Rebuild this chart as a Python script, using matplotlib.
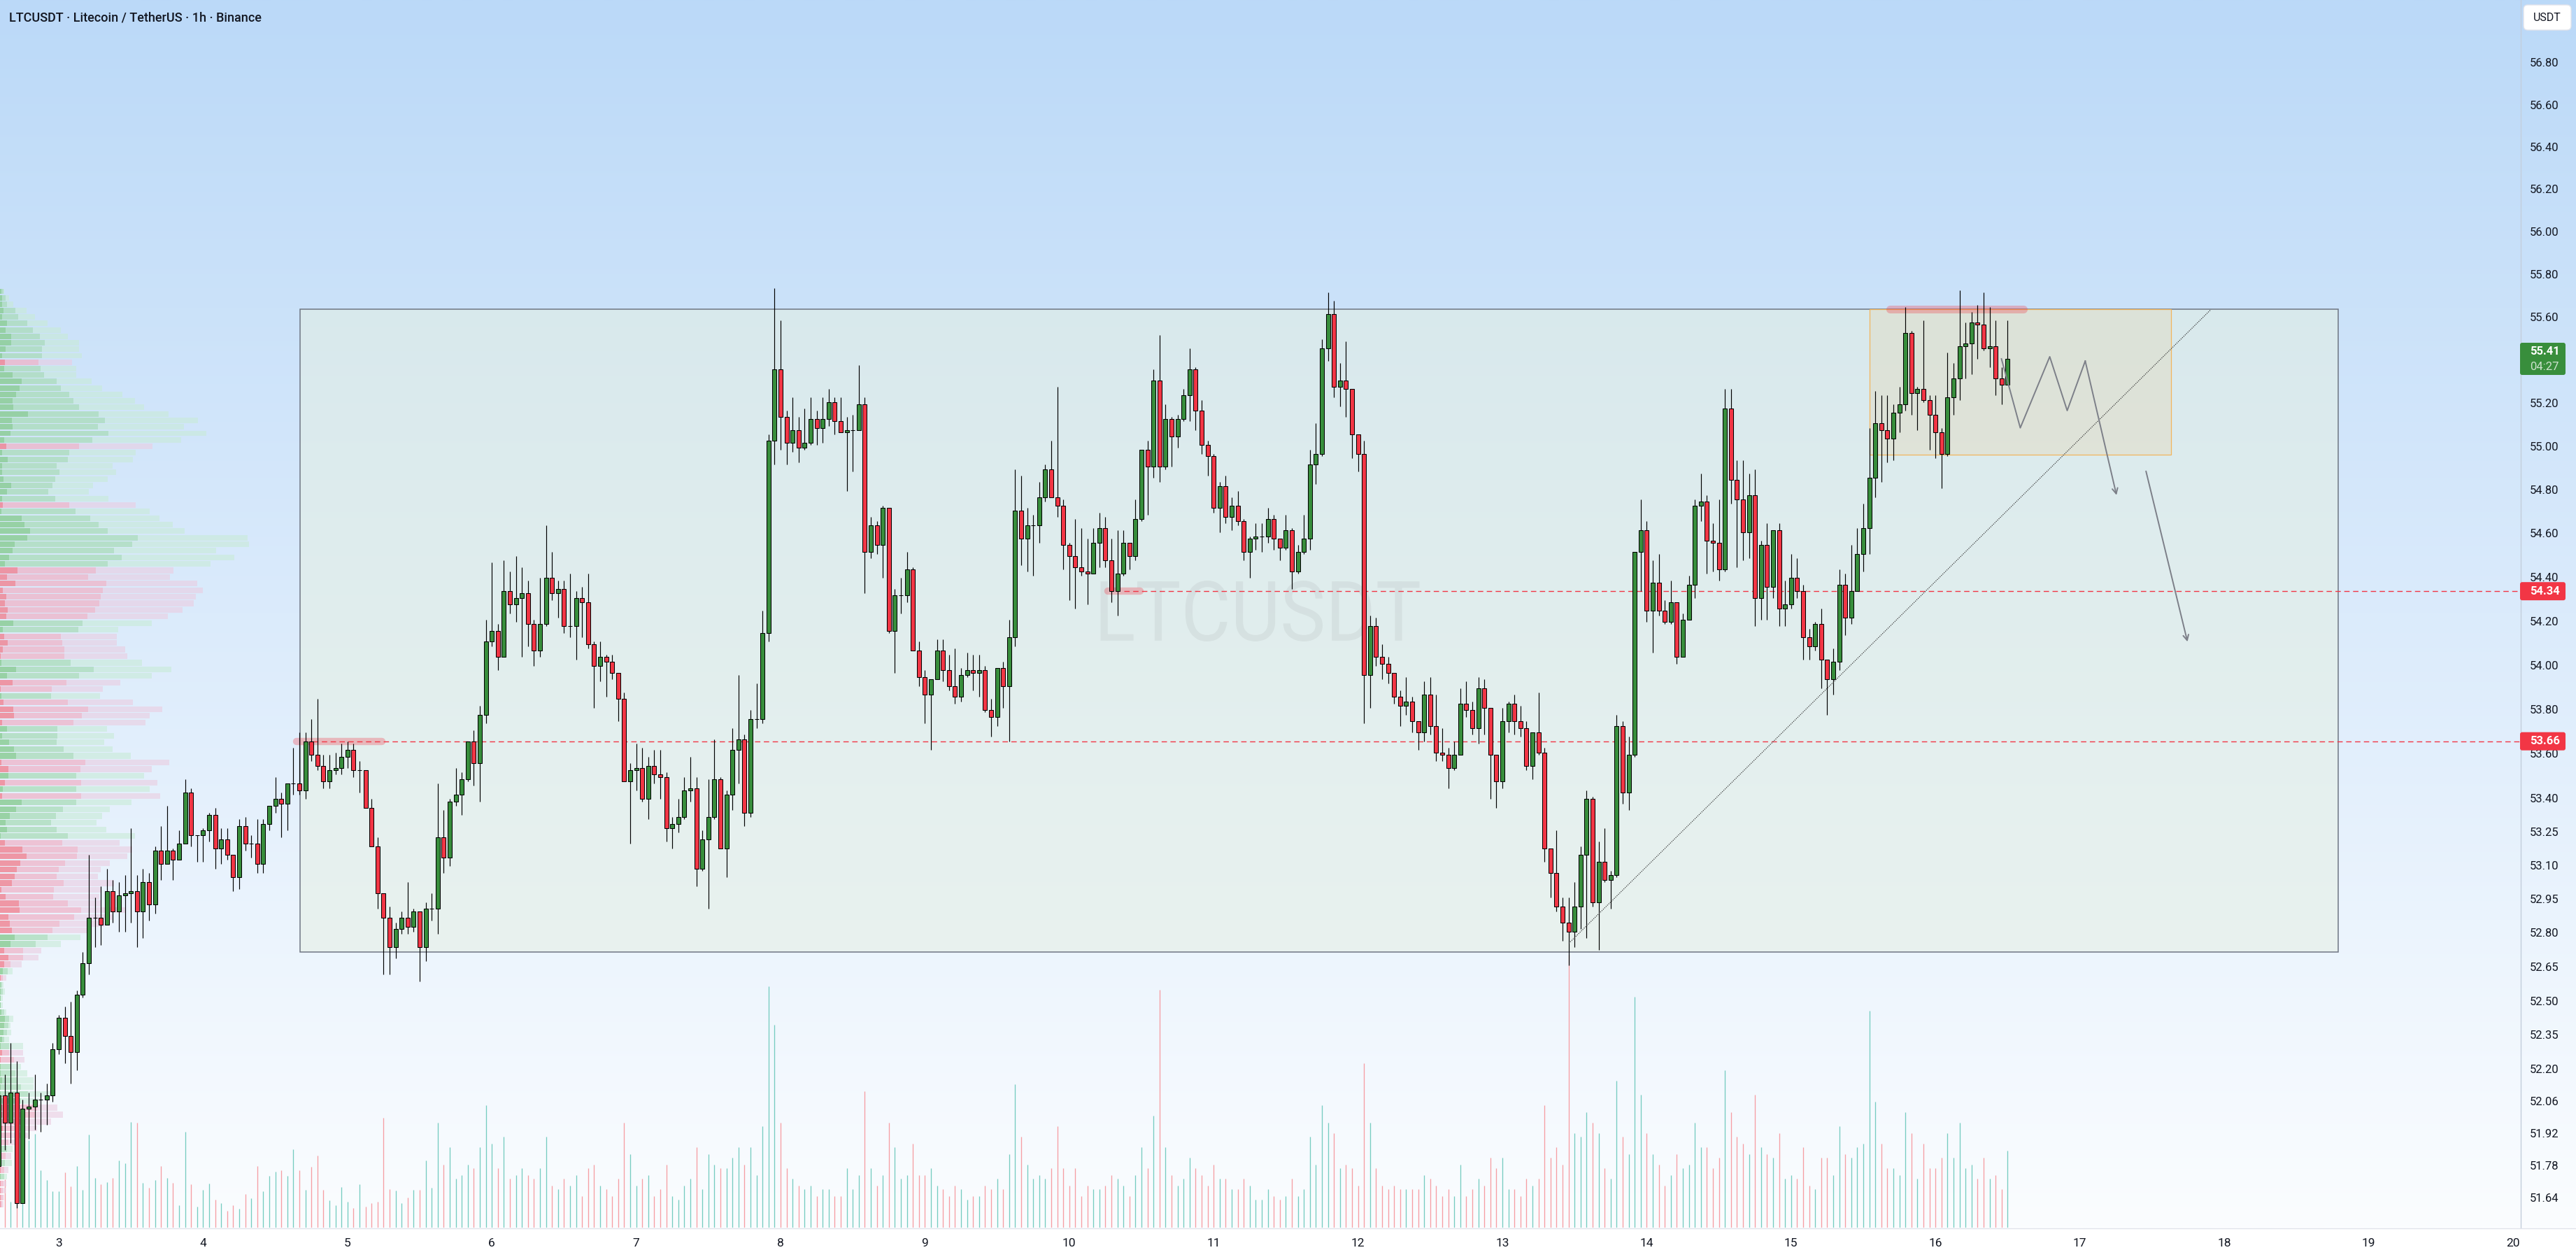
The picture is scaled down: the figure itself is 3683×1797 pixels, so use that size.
import numpy as np
import matplotlib
matplotlib.use("Agg")
import matplotlib.pyplot as plt
from matplotlib.patches import Rectangle, FancyBboxPatch, PathPatch
from matplotlib.lines import Line2D
from matplotlib.collections import LineCollection
from matplotlib.textpath import TextPath
from matplotlib.font_manager import FontProperties
from matplotlib.transforms import Affine2D, blended_transform_factory
from matplotlib.ticker import NullLocator

# ---------------- data (1h candles, index 0 = day 3 00:00) ----------------
first_index = -10
first_open = 51.78
closes = [
    52.09, 51.97, 52.10, 51.62, 52.03, 52.04, 52.07, 52.07, 52.09, 52.29,
    52.43, 52.35, 52.28, 52.53, 52.67, 52.87, 52.87, 52.84, 52.99, 52.90,
    52.97, 52.98, 52.99, 52.90, 53.03, 52.93, 53.17, 53.11, 53.17, 53.13,
    53.20, 53.43, 53.24, 53.24, 53.26, 53.33, 53.18, 53.22, 53.15, 53.05,
    53.28, 53.20, 53.20, 53.11, 53.29, 53.37, 53.40, 53.38, 53.47, 53.47,
    53.44, 53.66, 53.60, 53.55, 53.48, 53.53, 53.54, 53.59, 53.62, 53.53,
    53.53, 53.36, 53.19, 52.98, 52.87, 52.74, 52.82, 52.87, 52.83, 52.90,
    52.74, 52.91, 52.91, 53.23, 53.14, 53.39, 53.42, 53.49, 53.66, 53.56,
    53.78, 54.11, 54.16, 54.04, 54.34, 54.28, 54.31, 54.33, 54.19, 54.07,
    54.19, 54.40, 54.33, 54.35, 54.18, 54.18, 54.31, 54.29, 54.10, 54.00,
    54.04, 54.02, 53.97, 53.85, 53.48, 53.53, 53.54, 53.40, 53.55, 53.51,
    53.50, 53.27, 53.29, 53.32, 53.44, 53.45, 53.09, 53.22, 53.32, 53.49,
    53.18, 53.42, 53.62, 53.67, 53.34, 53.76, 53.76, 54.15, 55.03, 55.36,
    55.14, 55.02, 55.08, 55.00, 55.02, 55.13, 55.09, 55.13, 55.21, 55.12,
    55.07, 55.08, 55.08, 55.20, 54.52, 54.64, 54.55, 54.72, 54.16, 54.32,
    54.32, 54.44, 54.07, 53.95, 53.87, 53.94, 54.07, 53.98, 53.91, 53.86,
    53.96, 53.98, 53.97, 53.98, 53.80, 53.77, 53.99, 53.91, 54.13, 54.71,
    54.58, 54.64, 54.64, 54.77, 54.90, 54.77, 54.73, 54.55, 54.50, 54.45,
    54.43, 54.42, 54.56, 54.63, 54.48, 54.34, 54.42, 54.56, 54.50, 54.67,
    54.99, 54.91, 55.31, 54.91, 55.13, 55.05, 55.13, 55.24, 55.36, 55.17,
    55.01, 54.96, 54.72, 54.82, 54.68, 54.73, 54.66, 54.52, 54.58, 54.59,
    54.59, 54.67, 54.58, 54.54, 54.62, 54.43, 54.52, 54.58, 54.92, 54.97,
    55.46, 55.62, 55.28, 55.31, 55.27, 55.06, 54.97, 53.96, 54.18, 54.04,
    54.01, 53.97, 53.86, 53.82, 53.84, 53.75, 53.70, 53.87, 53.73, 53.61,
    53.60, 53.54, 53.60, 53.83, 53.80, 53.72, 53.90, 53.81, 53.60, 53.48,
    53.75, 53.83, 53.75, 53.72, 53.55, 53.70, 53.61, 53.18, 53.07, 52.92,
    52.85, 52.81, 52.92, 53.15, 53.40, 52.94, 53.12, 53.04, 53.06, 53.73,
    53.43, 53.60, 54.52, 54.62, 54.25, 54.38, 54.25, 54.20, 54.29, 54.04,
    54.21, 54.37, 54.73, 54.75, 54.57, 54.56, 54.44, 55.18, 54.85, 54.76,
    54.61, 54.78, 54.31, 54.55, 54.36, 54.62, 54.26, 54.28, 54.40, 54.34,
    54.13, 54.09, 54.19, 54.03, 53.94, 54.02, 54.37, 54.22, 54.34, 54.51,
    54.63, 54.86, 55.11, 55.08, 55.04, 55.16, 55.20, 55.53, 55.25, 55.27,
    55.22, 55.15, 55.07, 54.97, 55.23, 55.32, 55.47, 55.48, 55.58, 55.57,
    55.46, 55.47, 55.32, 55.29, 55.41,
]
highs = [
    52.12, 52.18, 52.32, 52.24, 52.07, 52.10, 52.18, 52.10, 52.14, 52.32,
    52.44, 52.48, 52.50, 52.55, 52.72, 53.15, 52.96, 53.01, 53.09, 53.04,
    53.03, 53.06, 53.27, 53.06, 53.09, 53.07, 53.19, 53.28, 53.37, 53.18,
    53.26, 53.49, 53.45, 53.24, 53.27, 53.34, 53.36, 53.27, 53.27, 53.15,
    53.31, 53.32, 53.24, 53.31, 53.31, 53.37, 53.50, 53.43, 53.47, 53.63,
    53.70, 53.70, 53.76, 53.85, 53.60, 53.60, 53.61, 53.65, 53.66, 53.65,
    53.57, 53.53, 53.40, 53.23, 52.98, 52.92, 52.85, 52.90, 53.03, 52.91,
    52.89, 52.94, 52.98, 53.47, 53.35, 53.40, 53.54, 53.52, 53.66, 53.71,
    53.82, 54.21, 54.47, 54.19, 54.48, 54.43, 54.50, 54.45, 54.39, 54.21,
    54.40, 54.64, 54.52, 54.39, 54.39, 54.42, 54.34, 54.36, 54.42, 54.11,
    54.11, 54.05, 54.05, 53.96, 53.88, 53.56, 53.65, 53.63, 53.59, 53.62,
    53.62, 53.52, 53.32, 53.40, 53.50, 53.59, 53.50, 53.26, 53.49, 53.67,
    53.50, 53.44, 53.72, 53.96, 53.69, 53.80, 53.92, 54.25, 55.06, 55.74,
    55.59, 55.17, 55.23, 55.14, 55.18, 55.23, 55.17, 55.23, 55.27, 55.23,
    55.23, 55.14, 55.15, 55.38, 55.23, 54.68, 54.66, 54.73, 54.71, 54.35,
    54.40, 54.52, 54.45, 54.11, 53.98, 53.94, 54.12, 54.12, 54.05, 54.08,
    53.99, 54.06, 54.05, 54.05, 54.00, 53.85, 53.99, 54.02, 54.21, 54.90,
    54.87, 54.72, 54.69, 54.84, 54.92, 55.03, 55.28, 54.76, 54.56, 54.67,
    54.63, 54.58, 54.63, 54.70, 54.68, 54.58, 54.62, 54.62, 54.56, 54.76,
    54.99, 55.03, 55.36, 55.52, 55.20, 55.14, 55.15, 55.27, 55.46, 55.37,
    55.22, 55.03, 54.97, 54.84, 54.87, 54.77, 54.80, 54.67, 54.59, 54.65,
    54.65, 54.72, 54.69, 54.58, 54.69, 54.63, 54.55, 54.69, 54.99, 55.11,
    55.50, 55.72, 55.68, 55.39, 55.49, 55.27, 55.06, 55.03, 54.23, 54.22,
    54.10, 54.04, 53.97, 53.89, 53.95, 53.86, 53.75, 53.93, 53.95, 53.87,
    53.72, 53.63, 53.66, 53.90, 53.93, 53.84, 53.95, 53.94, 53.81, 53.60,
    53.81, 53.84, 53.87, 53.82, 53.75, 53.70, 53.88, 53.63, 53.18, 53.26,
    52.96, 52.96, 53.03, 53.19, 53.44, 53.41, 53.21, 53.27, 53.08, 53.78,
    53.75, 53.68, 54.52, 54.76, 54.66, 54.48, 54.51, 54.30, 54.39, 54.29,
    54.24, 54.41, 54.76, 54.88, 54.78, 54.65, 54.76, 55.27, 55.27, 54.94,
    54.94, 54.88, 54.90, 54.57, 54.65, 54.62, 54.65, 54.39, 54.51, 54.49,
    54.37, 54.17, 54.20, 54.26, 54.03, 54.08, 54.44, 54.42, 54.55, 54.63,
    54.74, 55.09, 55.26, 55.24, 55.24, 55.20, 55.28, 55.65, 55.54, 55.28,
    55.59, 55.24, 55.24, 55.09, 55.44, 55.39, 55.73, 55.58, 55.63, 55.66,
    55.72, 55.65, 55.59, 55.37, 55.59,
]
lows = [
    51.72, 51.85, 51.88, 51.60, 51.63, 51.90, 51.94, 51.93, 51.96, 52.06,
    52.27, 52.23, 52.14, 52.20, 52.52, 52.62, 52.74, 52.75, 52.84, 52.85,
    52.81, 52.81, 52.85, 52.74, 52.78, 52.86, 52.89, 53.04, 53.11, 53.04,
    53.14, 53.20, 53.19, 53.12, 53.12, 53.21, 53.09, 53.11, 53.13, 52.99,
    53.00, 53.17, 53.14, 53.07, 53.07, 53.26, 53.34, 53.23, 53.26, 53.42,
    53.42, 53.40, 53.57, 53.53, 53.45, 53.45, 53.51, 53.51, 53.54, 53.50,
    53.43, 53.36, 53.19, 52.91, 52.62, 52.62, 52.69, 52.80, 52.80, 52.81,
    52.59, 52.68, 52.86, 52.80, 53.07, 53.10, 53.37, 53.33, 53.48, 53.46,
    53.39, 53.74, 54.09, 53.98, 54.04, 54.24, 54.20, 54.04, 54.09, 54.00,
    54.04, 54.18, 54.30, 54.22, 54.15, 54.13, 54.03, 54.13, 54.08, 53.81,
    53.93, 53.86, 53.94, 53.75, 53.48, 53.20, 53.44, 53.39, 53.31, 53.47,
    53.40, 53.21, 53.18, 53.25, 53.31, 53.39, 53.01, 53.08, 52.91, 53.31,
    53.18, 53.05, 53.35, 53.47, 53.28, 53.32, 53.72, 53.74, 54.11, 54.92,
    54.99, 54.92, 54.98, 54.93, 54.99, 55.01, 55.01, 55.02, 55.10, 55.06,
    55.07, 54.80, 54.89, 55.08, 54.33, 54.49, 54.51, 54.40, 54.15, 53.97,
    54.24, 54.29, 54.07, 53.91, 53.74, 53.62, 53.95, 53.93, 53.89, 53.83,
    53.84, 53.95, 53.89, 53.86, 53.79, 53.68, 53.73, 53.81, 53.66, 54.09,
    54.46, 54.43, 54.41, 54.56, 54.75, 54.77, 54.68, 54.44, 54.30, 54.26,
    54.41, 54.28, 54.42, 54.45, 54.45, 54.29, 54.23, 54.41, 54.44, 54.48,
    54.66, 54.69, 54.86, 54.84, 54.90, 54.91, 55.00, 55.12, 55.12, 55.08,
    54.97, 54.87, 54.70, 54.61, 54.65, 54.62, 54.64, 54.48, 54.40, 54.53,
    54.52, 54.56, 54.53, 54.48, 54.53, 54.35, 54.42, 54.51, 54.53, 54.83,
    54.96, 55.40, 55.23, 55.19, 55.14, 54.95, 54.89, 53.74, 53.81, 54.00,
    53.94, 53.92, 53.83, 53.73, 53.78, 53.70, 53.62, 53.66, 53.69, 53.57,
    53.57, 53.45, 53.53, 53.61, 53.77, 53.69, 53.65, 53.69, 53.40, 53.36,
    53.45, 53.70, 53.69, 53.68, 53.53, 53.49, 53.60, 53.12, 52.96, 52.90,
    52.77, 52.66, 52.74, 52.82, 52.78, 52.92, 52.73, 53.03, 52.91, 53.05,
    53.38, 53.35, 53.59, 54.34, 54.20, 54.06, 54.23, 54.19, 54.19, 54.01,
    54.04, 54.21, 54.31, 54.66, 54.42, 54.43, 54.39, 54.43, 54.74, 54.45,
    54.48, 54.49, 54.18, 54.21, 54.21, 54.31, 54.18, 54.18, 54.26, 54.31,
    54.03, 54.03, 54.07, 53.90, 53.78, 53.87, 53.98, 54.14, 54.19, 54.36,
    54.43, 54.51, 54.77, 54.84, 54.93, 54.94, 55.07, 55.17, 55.15, 55.08,
    55.21, 54.99, 54.95, 54.81, 54.96, 55.15, 55.22, 55.32, 55.34, 55.41,
    55.45, 55.37, 55.24, 55.20, 55.29,
]
volumes = [
    39, 69, 37, 28, 40, 125, 134, 82, 68, 52,
    52, 79, 59, 88, 54, 133, 71, 62, 65, 71,
    96, 92, 151, 150, 64, 57, 68, 88, 71, 64,
    32, 137, 62, 30, 54, 63, 40, 35, 24, 32,
    27, 48, 42, 88, 52, 74, 80, 82, 74, 112,
    82, 54, 87, 103, 54, 39, 32, 58, 37, 28,
    62, 30, 35, 37, 157, 55, 53, 35, 43, 54,
    54, 96, 57, 150, 90, 115, 70, 75, 90, 85,
    115, 175, 120, 85, 130, 70, 75, 85, 75, 70,
    85, 130, 60, 55, 70, 60, 75, 45, 85, 90,
    60, 55, 45, 70, 150, 105, 60, 70, 75, 45,
    55, 90, 45, 40, 60, 70, 115, 55, 105, 90,
    85, 85, 100, 115, 90, 115, 75, 145, 345, 290,
    150, 85, 70, 60, 55, 60, 45, 55, 55, 45,
    45, 85, 55, 75, 195, 85, 60, 75, 150, 115,
    70, 75, 120, 75, 75, 85, 60, 55, 45, 60,
    55, 40, 45, 45, 60, 55, 70, 55, 105, 205,
    130, 90, 70, 75, 70, 85, 145, 85, 60, 85,
    45, 60, 55, 55, 60, 75, 70, 60, 45, 75,
    115, 85, 160, 340, 115, 75, 60, 70, 100, 85,
    75, 60, 90, 70, 70, 55, 55, 70, 60, 40,
    40, 55, 45, 40, 45, 70, 45, 55, 130, 90,
    175, 150, 135, 85, 90, 85, 60, 235, 150, 85,
    60, 55, 60, 55, 55, 55, 55, 75, 70, 60,
    45, 55, 45, 90, 45, 55, 70, 60, 100, 85,
    100, 55, 55, 45, 70, 60, 70, 175, 100, 115,
    90, 390, 135, 130, 165, 150, 135, 85, 70, 210,
    130, 105, 330, 190, 135, 105, 90, 60, 75, 105,
    85, 90, 150, 115, 115, 85, 100, 225, 165, 130,
    120, 105, 190, 115, 105, 100, 135, 70, 75, 70,
    115, 60, 55, 100, 100, 75, 145, 105, 100, 115,
    120, 310, 180, 120, 85, 85, 75, 165, 135, 70,
    120, 85, 85, 100, 135, 100, 150, 85, 90, 70,
    100, 70, 75, 55, 110,
]

# visible-range volume profile: rows of 0.03 from the top level down
vp_top = 55.74
vp_step = 0.03
vp_side = ("ggggggggggg" "r" "gggggggggggg" "r" "gggggggg" "r" "ggggggggg"
           "rrrrrrrr" "gg" "rrrr" "ggg" "rr" "g" "rrrr" "ggggg" "rr" "g" "r" "g" "r"
           "gggggg" "rrrrrrrrrrrrrr" "gg" "rrr" "g" "r" "gggggggggg" "rr" "gggggg"
           "rrrrrr" "g" "r" "g" "r" "g" "rrrr")
vp_core = [5, 8, 8, 15, 10, 30, 25, 48, 48, 25, 10, 21, 18, 53, 92, 84, 69, 54, 57, 120,
           51, 54, 45, 18, 27, 9, 33, 9, 9, 15, 48, 30, 9, 12, 6, 93, 105, 129, 117, 63,
           54, 39, 21, 75, 30, 66, 12, 27, 21, 33, 27, 57, 12, 18, 33, 12, 3, 6, 69, 30,
           54, 3, 6, 15, 57, 60, 9, 30, 9, 39, 60, 69, 6, 36, 36, 21, 12, 9, 93, 69,
           42, 24, 30, 3, 21, 96, 114, 87, 72, 63, 51, 6, 24, 81, 84, 36, 42, 51, 63, 45,
           18, 36, 18, 12, 3, 3, 3, 3, 3, 6, 21, 18, 15, 9, 3, 9, 3, 3, 3, 9,
           3, 3, 3, 9, 9, 6, 12, 6, 3, 3, 3, 3, 3, 3, 3, 3, 3, 3]
vp_mid = [15, 25, 30, 65, 78, 117, 140, 170, 192, 180, 180, 165, 173, 188, 242, 261, 297, 315, 339, 422,
          450, 420, 465, 396, 339, 297, 291, 243, 255, 237, 225, 207, 237, 297, 324, 387, 423, 462, 591, 567,
          489, 522, 462, 411, 378, 456, 441, 432, 426, 408, 375, 354, 336, 261, 267, 276, 276, 303, 402, 339,
          285, 222, 219, 291, 378, 351, 315, 246, 246, 243, 273, 315, 366, 345, 327, 348, 327, 348, 327, 270,
          240, 219, 243, 291, 267, 333, 330, 279, 252, 243, 273, 231, 228, 291, 348, 318, 255, 225, 204, 153,
          99, 99, 45, 33, 12, 9, 12, 3, 3, 18, 39, 36, 30, 18, 39, 39, 60, 48, 66, 75,
          90, 120, 90, 159, 150, 99, 60, 48, 36, 30, 24, 21, 18, 18, 15, 12, 12, 9]
vp_out = [18, 40, 57, 113, 150, 203, 261, 291, 339, 339, 351, 309, 327, 327, 393, 438, 525, 579, 618, 722,
          849, 789, 885, 777, 654, 582, 570, 483, 498, 462, 399, 381, 465, 582, 642, 684, 741, 792, 1062, 1068,
          927, 1005, 903, 744, 729, 846, 870, 840, 831, 783, 720, 651, 507, 501, 501, 537, 546, 609, 735, 651,
          516, 441, 429, 570, 696, 642, 624, 459, 489, 447, 483, 561, 726, 651, 618, 675, 642, 687, 564, 471,
          438, 414, 456, 579, 513, 567, 546, 471, 432, 420, 489, 432, 426, 435, 540, 483, 447, 375, 345, 261,
          177, 165, 93, 54, 27, 15, 21, 12, 12, 27, 57, 45, 48, 39, 99, 99, 105, 90, 117, 144,
          144, 216, 165, 246, 270, 219, 159, 120, 75, 54, 48, 51, 36, 30, 27, 24, 18, 15]

day_labels = [str(d) for d in range(3, 21)]
price_ticks = [56.80, 56.60, 56.40, 56.20, 56.00, 55.80, 55.60, 55.20, 55.00, 54.80,
               54.60, 54.40, 54.20, 54.00, 53.80, 53.60, 53.40, 53.25, 53.10, 52.95,
               52.80, 52.65, 52.50, 52.35, 52.20, 52.06, 51.92, 51.78, 51.64]
last_price = 55.41
countdown = "04:27"
level_hi = 54.34
level_lo = 53.66
symbol = "LTCUSDT"
title = "LTCUSDT · Litecoin / TetherUS · 1h · Binance"
currency = "USDT"

# drawings (bar index, price)
range_x = [40.16, 378.95]
range_y = [52.72, 55.64]
zone_x = [301.05, 351.16]
zone_y = [54.967, 55.64]
trend_x = [251.05, 357.8]
trend_y = [52.758, 55.64]
zig_x = [322.97, 326.1, 331.0, 333.9, 336.9, 342.1]
zig_y = [55.41, 55.09, 55.42, 55.17, 55.40, 54.78]
arrow2_x = [347.0, 353.9]
arrow2_y = [54.89, 54.11]
mark_top_x = [304.4, 326.6]
mark_top_y = 55.643
mark_lo_x = [39.5, 53.7]
mark_hi_x = [174.4, 179.8]
dash_hi_start = 177.1
dash_lo_start = 42.2

# ---------------- layout ----------------
W, H = 3683, 1797
DPI = 100
PANE_W, PANE_H = 3603, 1755
BAR_PX = 8.6
X0_PX = 84.0
YMIN, YMAX = 51.514, 57.104

GREEN = "#388e3c"
RED = "#f23645"
TXT = "#131722"

fig = plt.figure(figsize=(W / DPI, H / DPI), dpi=DPI, facecolor="white")
pxT = Affine2D().scale(1.0 / W, 1.0 / H) + fig.transFigure


def P(x, y):
    return (x, H - y)


# background gradient of the pane and price scale
bg = fig.add_axes([0, (H - PANE_H) / H, 1, PANE_H / H], zorder=-10)
bg.axis("off")
top = np.array([187, 217, 248]) / 255.0
bot = np.array([251, 253, 255]) / 255.0
t = np.linspace(0, 1, 512)[:, None, None]
grad = top[None, None, :] * (1 - t) + bot[None, None, :] * t
bg.imshow(grad, aspect="auto", extent=[0, 1, 0, 1], interpolation="bilinear")
bg.set_xlim(0, 1)
bg.set_ylim(0, 1)

rect = [0, (H - PANE_H) / H, PANE_W / W, PANE_H / H]
ax = fig.add_axes(rect, zorder=2)
ax.set_facecolor("none")
ax.set_yscale("log")
ax.set_xlim(-X0_PX / BAR_PX, (PANE_W - X0_PX) / BAR_PX)
ax.set_ylim(YMIN, YMAX)
for s in ax.spines.values():
    s.set_visible(False)
ax.xaxis.set_major_locator(NullLocator())
ax.xaxis.set_minor_locator(NullLocator())
ax.yaxis.set_major_locator(NullLocator())
ax.yaxis.set_minor_locator(NullLocator())

closes_a = np.array(closes)
opens_a = np.r_[first_open, closes_a[:-1]]
hi_a = np.maximum.reduce([np.array(highs), opens_a, closes_a])
lo_a = np.minimum.reduce([np.array(lows), opens_a, closes_a])
idx = np.arange(first_index, first_index + len(closes_a))
up = closes_a >= opens_a

# ---- volume bars (bottom, height in pane pixels)
vtr = blended_transform_factory(ax.transData, ax.transAxes)
vsegs = [[(x, 0), (x, v / PANE_H)] for x, v in zip(idx, volumes)]
vcols = [(118/255, 204/255, 192/255, 1.0) if u else (246/255, 158/255, 164/255, 1.0) for u in up]
ax.add_collection(LineCollection(vsegs, colors=vcols, linewidths=0.95, transform=vtr, zorder=1.3))

# ---- volume profile (left)
bt = blended_transform_factory(ax.transAxes, ax.transData)
pal = {
    "g": [(140/255, 205/255, 150/255, 0.85), (170/255, 220/255, 185/255, 0.75), (200/255, 235/255, 215/255, 0.6)],
    "r": [(240/255, 135/255, 150/255, 0.85), (240/255, 180/255, 200/255, 0.75), (235/255, 205/255, 225/255, 0.6)],
}
for k, side in enumerate(vp_side):
    y_hi = vp_top - k * vp_step
    y_lo = y_hi - vp_step
    y0 = y_lo + vp_step * 0.06
    hh = vp_step * 0.86
    ends = [vp_core[k], vp_mid[k], vp_out[k]]
    start = 0.0
    for j, e in enumerate(ends):
        w = max(e - start, 0)
        if w > 0:
            ax.add_patch(Rectangle((start / 3.0 / PANE_W, y0), w / 3.0 / PANE_W, hh,
                                   transform=bt, facecolor=pal[side][j], edgecolor="none", zorder=1.5))
        start = max(start, e)

# ---- range box & zone
ax.add_patch(Rectangle((range_x[0], range_y[0]), range_x[1] - range_x[0], range_y[1] - range_y[0],
                       facecolor=(230/255, 240/255, 225/255, 0.5), edgecolor="#6f7683", lw=1.1, zorder=1))
ax.add_patch(Rectangle((zone_x[0], zone_y[0]), zone_x[1] - zone_x[0], zone_y[1] - zone_y[0],
                       facecolor=(230/255, 210/255, 170/255, 0.3), edgecolor="#f2b45c", lw=0.9, zorder=1.2))

# ---- highlight marks
mk = (242/255, 54/255, 69/255, 0.3)
ax.plot(mark_top_x, [mark_top_y] * 2, color=mk, lw=8, solid_capstyle="round", zorder=3)
ax.plot(mark_lo_x, [level_lo] * 2, color=mk, lw=7.5, solid_capstyle="round", zorder=3)
ax.plot(mark_hi_x, [level_hi] * 2, color=mk, lw=7.5, solid_capstyle="round", zorder=3)

# ---- dashed levels
xr = ax.get_xlim()[1]
ax.plot([dash_hi_start, xr], [level_hi] * 2, color=RED, lw=1.0, ls=(0, (5.5, 3.6)), zorder=3.5)
ax.plot([dash_lo_start, xr], [level_lo] * 2, color=RED, lw=1.0, ls=(0, (5.5, 3.6)), zorder=3.5)

# ---- candles
cols = np.where(up, GREEN, RED)
ax.vlines(idx, lo_a, hi_a, color="black", lw=0.85, zorder=4)
ax.bar(idx, np.abs(closes_a - opens_a), bottom=np.minimum(opens_a, closes_a), width=0.7,
       color=cols, edgecolor="black", linewidth=0.75, zorder=5)
ax.set_xlim(-X0_PX / BAR_PX, (PANE_W - X0_PX) / BAR_PX)
ax.set_ylim(YMIN, YMAX)

# ---- trend line and projection
ax.plot(trend_x, trend_y, color="#3a3a3a", lw=0.9, ls=(0, (1, 1.2)), zorder=6)
ax.plot(zig_x[:-1], zig_y[:-1], color="#7c7f88", lw=1.4, zorder=6)
ap = dict(arrowstyle="->,head_length=0.55,head_width=0.28", color="#7c7f88", lw=1.4, shrinkA=0, shrinkB=0)
ax.annotate("", xy=(zig_x[-1], zig_y[-1]), xytext=(zig_x[-2], zig_y[-2]), arrowprops=ap, zorder=6)
ax.annotate("", xy=(arrow2_x[1], arrow2_y[1]), xytext=(arrow2_x[0], arrow2_y[0]), arrowprops=ap, zorder=6)

# ---- watermark
tp = TextPath((0, 0), symbol, size=100, prop=FontProperties(family="Roboto"))
ext = tp.get_extents()
sx, sy = 456.0 / ext.width, 87.0 / ext.height
wtr = Affine2D().translate(-ext.x0, -ext.y0).scale(sx, sy).translate(PANE_W / 2 - 228, H - 917) + pxT
fig.add_artist(PathPatch(tp, transform=wtr, facecolor=(120/255, 123/255, 134/255, 0.22),
                         edgecolor="none", zorder=0.5))

# ---- axis lines
fig.add_artist(Line2D([PANE_W + 0.5, PANE_W + 0.5], [H, H - PANE_H], transform=pxT, color="#c3cedb", lw=1.0, zorder=3))
fig.add_artist(Line2D([0, W], [H - PANE_H - 0.5, H - PANE_H - 0.5], transform=pxT, color="#e0e3eb", lw=1.0, zorder=3))

# ---- price scale labels
ytr = blended_transform_factory(pxT, ax.transData)
for p in price_ticks:
    fig.text(3617, p, f"{p:.2f}", transform=ytr, ha="left", va="center",
             fontsize=12, family="Roboto", color=TXT, zorder=5)

fig.canvas.draw()


def label_box(p, color, h):
    yd = ax.transData.transform((0, p))[1]  # display px from bottom
    box = FancyBboxPatch((PANE_W, yd - h / 2), 65, h, boxstyle="round,pad=0,rounding_size=3",
                         transform=pxT, facecolor=color, edgecolor="none", zorder=6)
    fig.add_artist(box)
    return yd


yd = label_box(last_price, GREEN, 46)
fig.text(3617 / W, (yd + 11) / H, f"{last_price:.2f}", ha="left", va="center", fontsize=12,
         family="Roboto", weight="bold", color="white", zorder=7)
fig.text(3617 / W, (yd - 11) / H, countdown, ha="left", va="center", fontsize=12,
         family="Roboto", color=(1, 1, 1, 0.75), zorder=7)
for lv in (level_hi, level_lo):
    yd = label_box(lv, RED, 26)
    fig.text(3617 / W, yd / H, f"{lv:.2f}", ha="left", va="center", fontsize=12,
             family="Roboto", weight="bold", color="white", zorder=7)

# currency box
fig.add_artist(FancyBboxPatch(P(3608, 43), 68, 36, boxstyle="round,pad=0,rounding_size=6",
                              transform=pxT, facecolor="white", edgecolor="#e0e3eb", lw=1.0, zorder=6))
fig.text(3642 / W, 1 - 25 / H, currency, ha="center", va="center", fontsize=11.5,
         family="Roboto", color=TXT, zorder=7)

# ---- time axis labels
for n, lab in enumerate(day_labels):
    xpx = X0_PX + n * 24 * BAR_PX
    fig.text(xpx / W, 1 - 1777 / H, lab, ha="center", va="center", fontsize=12.5,
             family="Roboto", color=TXT, zorder=5)

# ---- title
fig.text(12.6 / W, 1 - 25 / H, title, ha="left", va="center", fontsize=13,
         family="Roboto", weight="medium", color=TXT, zorder=5)

fig.savefig("out.png", dpi=DPI, facecolor="white")
